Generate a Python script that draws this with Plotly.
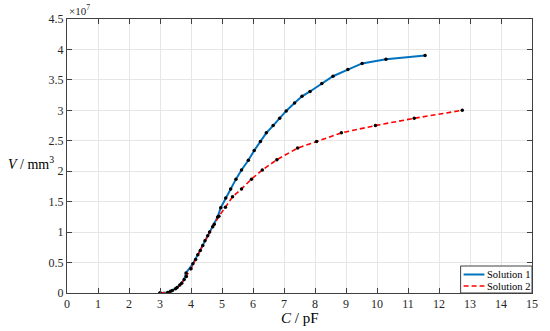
import plotly.graph_objects as go

# Solution 1 (C in pF, V in 1e7 mm^3)
c1 = [3.0, 3.26, 3.34, 3.5, 3.64, 3.78, 3.84, 4.06, 4.22, 4.38, 4.54, 4.70, 4.86, 4.96,
      5.12, 5.28, 5.45, 5.63, 5.85, 6.04, 6.24, 6.43, 6.65, 6.86, 7.07, 7.34, 7.58,
      7.84, 8.22, 8.58, 9.06, 9.52, 10.29, 11.55]
v1 = [0.0, 0.01, 0.03, 0.07, 0.13, 0.22, 0.33, 0.48, 0.63, 0.78, 0.94, 1.09, 1.25, 1.40,
      1.56, 1.71, 1.87, 2.02, 2.18, 2.34, 2.49, 2.63, 2.75, 2.87, 2.99, 3.12, 3.23,
      3.31, 3.44, 3.56, 3.67, 3.77, 3.84, 3.90]

# Solution 2
c2 = [3.0, 3.25, 3.4, 3.55, 3.7, 3.85, 4.0, 4.15, 4.3, 4.45, 4.6, 4.75, 4.9,
      5.11, 5.34, 5.63, 5.95, 6.30, 6.77, 7.44, 8.05, 8.85, 9.95, 11.2, 12.75]
v2 = [0.0, 0.01, 0.04, 0.09, 0.16, 0.27, 0.40, 0.55, 0.70, 0.86, 1.0, 1.13, 1.26,
      1.41, 1.58, 1.71, 1.87, 2.02, 2.19, 2.38, 2.49, 2.63, 2.75, 2.87, 3.00]

series_names = ["Solution 1", "Solution 2"]
x_ticks = list(range(0, 16))
y_ticks = [0, 0.5, 1, 1.5, 2, 2.5, 3, 3.5, 4, 4.5]
y_tick_text = ["0", "0.5", "1", "1.5", "2", "2.5", "3", "3.5", "4", "4.5"]

SERIF = "Liberation Serif"
AX = "#404040"
BLUE = "#0072BD"
RED = "#FF0000"
RED_DASH = "5px,3px"

W, H = 550, 331
L, R, T, B = 67, 14, 19, 38
pw, ph = W - L - R, H - T - B


def px(x):
    return (x - L) / pw


def py(y):
    return (H - B - y) / ph


fig = go.Figure()
fig.add_trace(go.Scatter(x=c1, y=v1, mode="lines", name=series_names[0],
                         line=dict(color=BLUE, width=2)))
fig.add_trace(go.Scatter(x=c2, y=v2, mode="lines", name=series_names[1],
                         line=dict(color=RED, width=1.6, dash=RED_DASH)))
fig.add_trace(go.Scatter(x=c1, y=v1, mode="markers",
                         marker=dict(color="black", size=3.5)))
fig.add_trace(go.Scatter(x=c2, y=v2, mode="markers",
                         marker=dict(color="black", size=3.5)))

axis_common = dict(showline=True, linecolor=AX, linewidth=1, mirror="allticks",
                   ticks="inside", ticklen=5, tickcolor=AX, showgrid=True,
                   gridcolor="#e6e6e6", gridwidth=1, zeroline=False,
                   tickfont=dict(family=SERIF, size=12, color="#262626"))

fig.update_xaxes(range=[0, 15], tickvals=x_ticks, **axis_common)
fig.update_yaxes(range=[0, 4.5], tickvals=y_ticks, ticktext=y_tick_text, **axis_common)

# custom legend (bottom right box)
shapes = [
    dict(type="rect", xref="paper", yref="paper",
         x0=px(464), x1=1.0, y0=0.0, y1=py(266),
         line=dict(color=AX, width=1), fillcolor="white", layer="above"),
    dict(type="line", xref="paper", yref="paper",
         x0=px(467), x1=px(488), y0=py(274.5), y1=py(274.5),
         line=dict(color=BLUE, width=2), layer="above"),
    dict(type="line", xref="paper", yref="paper",
         x0=px(467), x1=px(488), y0=py(286), y1=py(286),
         line=dict(color=RED, width=1.6, dash=RED_DASH), layer="above"),
]

annotations = [
    dict(text="×10<sup>7</sup>", xref="paper", yref="paper", x=0.0, y=1.0,
         xanchor="left", yanchor="bottom", showarrow=False,
         font=dict(family=SERIF, size=11, color="#262626")),
    dict(text="<i>V</i> / mm<sup>3</sup>", xref="paper", yref="paper", x=px(31), y=py(163),
         xanchor="center", yanchor="middle", showarrow=False,
         font=dict(family=SERIF, size=14, color="black")),
    dict(text="<i>C</i> / pF", xref="paper", yref="paper", x=px(302), y=py(318),
         xanchor="center", yanchor="middle", showarrow=False,
         font=dict(family=SERIF, size=15, color="black")),
    dict(text=series_names[0], xref="paper", yref="paper", x=px(489), y=py(274.5),
         xanchor="left", yanchor="middle", showarrow=False,
         font=dict(family=SERIF, size=10.5, color="black")),
    dict(text=series_names[1], xref="paper", yref="paper", x=px(489), y=py(286),
         xanchor="left", yanchor="middle", showarrow=False,
         font=dict(family=SERIF, size=10.5, color="black")),
]

fig.update_layout(
    width=W, height=H,
    margin=dict(l=L, r=R, t=T, b=B),
    paper_bgcolor="white", plot_bgcolor="white",
    showlegend=False,
    shapes=shapes,
    annotations=annotations,
)

fig.write_html("out.html", config={"displayModeBar": False},
               post_script="document.body.style.margin='0';document.body.style.overflow='hidden';")
